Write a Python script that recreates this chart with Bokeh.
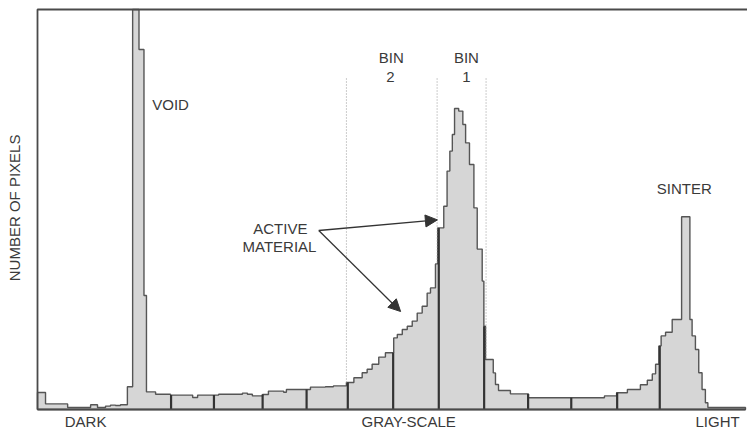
import numpy as np
from bokeh.plotting import figure
from bokeh.models import Range1d, Arrow, NormalHead, ColumnDataSource
from bokeh.core.properties import value
from bokeh.embed import file_html
from bokeh.resources import INLINE

# ---- data (gray level vs number of pixels, arbitrary count units) ----
edges = [0.0, 2.9, 10.9, 19.2, 21.7, 24.6, 26.4, 28.2, 30.0, 32.5, 34.4, 36.7,
         38.5, 39.4, 42.7, 48.1, 56.1, 57.9, 65.5, 74.1, 75.9, 77.7, 81.4, 83.5,
         89.0, 90.0, 98.7, 104.1, 107.0, 111.7, 114.4, 117.4, 119.2, 121.0, 123.4,
         125.8, 128.8, 130.1, 131.9, 133.7, 135.5, 137.3, 139.1, 140.9, 142.1,
         143.9, 144.7, 146.9, 148.1, 149.1, 150.0, 150.8, 152.3, 153.8, 154.8,
         156.2, 157.8, 159.0, 160.8, 161.4, 162.0, 164.8, 165.6, 166.7, 171.0,
         177.5, 205.0, 209.4, 213.3, 218.0, 220.5, 222.3, 223.5, 224.7, 225.5,
         227.1, 229.5, 232.9, 235.9, 236.7, 237.9, 239.1, 240.3, 241.5, 242.4,
         256.0]
counts = [4.25, 1.4, 0.5, 1.2, 0.5, 0.85, 1.1, 1.0, 1.2, 5.7, 100.0, 90.0,
          28.5, 4.4, 3.8, 3.6, 3.0, 3.6, 3.8, 4.1, 3.8, 3.4, 3.75, 4.6,
          4.3, 5.0, 5.6, 5.7, 5.9, 6.75, 7.95, 9.2, 10.05, 11.3, 13.1,
          14.2, 17.9, 18.75, 20.0, 20.8, 22.1, 24.1, 25.8, 29.1, 30.4,
          36.4, 45.4, 50.8, 59.6, 64.6, 68.75, 75.25, 74.6, 71.25, 66.65,
          61.25, 50.4, 40.1, 32.1, 20.8, 12.5, 9.15, 6.25, 4.75, 3.9,
          2.95, 3.4, 4.2, 5.0, 6.2, 7.3, 8.9, 11.3, 15.9, 18.4,
          19.3, 22.5, 48.2, 22.5, 18.4, 15.0, 9.2, 5.0, 1.7, 0.5]
bin_dividers = [48.3, 63.8, 81.4, 97.3, 112.2, 128.6, 145.1, 161.5, 177.4,
                193.0, 209.6, 225.0]
bin_limits = [111.7, 144.5, 162.2]
bin_limit_top = 82.75

edges_a = np.array(edges)
counts_a = np.array(counts)

def height_at(x):
    i = np.searchsorted(edges_a, x, side="right") - 1
    i = min(max(i, 0), len(counts_a) - 1)
    return counts_a[i]

p = figure(width=747, height=435, output_backend="svg", toolbar_location=None,
           x_range=Range1d(-13.38, 256.73), y_range=Range1d(-6.5, 102.25),
           x_axis_location=None, y_axis_location=None, min_border=0,
           outline_line_color=None, background_fill_color="white",
           border_fill_color="white")
p.grid.visible = False

ink = "#4a4a4a"

# histogram as a single step-shaped patch
xs, ys = [edges_a[0]], [0.0]
for i in range(len(counts_a)):
    xs += [edges_a[i], edges_a[i + 1]]
    ys += [counts_a[i], counts_a[i]]
xs.append(edges_a[-1]); ys.append(0.0)
p.patch(xs, ys, fill_color="#d6d6d6", line_color="#555555", line_width=1.4)

# bin dividers (dark vertical lines inside histogram)
p.segment(x0=bin_dividers, y0=[0] * len(bin_dividers), x1=bin_dividers,
          y1=[height_at(x) for x in bin_dividers], line_color="#333333",
          line_width=2.2)

# dotted bin limits
p.segment(x0=bin_limits, y0=[bin_limit_top] * 3, x1=bin_limits,
          y1=[height_at(x) for x in bin_limits], line_color="#999999",
          line_width=1, line_dash="1 2")

# frame
p.line([0, 0, 256.73], [0, 100, 100], line_color=ink, line_width=1.8)
p.line([0, 256.0], [0, 0], line_color=ink, line_width=2)

font = value("Liberation Sans")
lbl = ColumnDataSource(dict(
    x=[41.5, 127.9, 127.6, 155.1, 155.1, 87.8, 87.5, 233.9, 17.4, 134.2, 245.9],
    y=[76.25, 88.1, 83.25, 88.1, 83.25, 45.3, 40.75, 55.2, -3.0, -3.0, -3.0],
    t=["VOID", "BIN", "2", "BIN", "1", "ACTIVE", "MATERIAL", "SINTER", "DARK",
       "GRAY-SCALE", "LIGHT"],
    a=["left", "center", "center", "center", "center", "center", "center",
       "center", "center", "center", "center"],
))
p.text(x="x", y="y", text="t", text_align="a", source=lbl, text_font=font,
       text_font_size="15px", text_color="#3a3a3a", text_baseline="middle")
p.text(x=[-8.3], y=[50.4], text=["NUMBER OF PIXELS"], angle=np.pi / 2,
       text_font=font, text_font_size="15px", text_color="#3a3a3a",
       text_align="center", text_baseline="middle")

# arrows
for (xe, ye) in [(144.6, 47.4), (131.3, 24.5)]:
    p.add_layout(Arrow(x_start=101.7, y_start=44.75, x_end=xe, y_end=ye,
                       line_color="#333333", line_width=1.3,
                       end=NormalHead(size=12, fill_color="#333333",
                                      line_color="#333333")))

open("out.html", "w").write(file_html(p, INLINE))
